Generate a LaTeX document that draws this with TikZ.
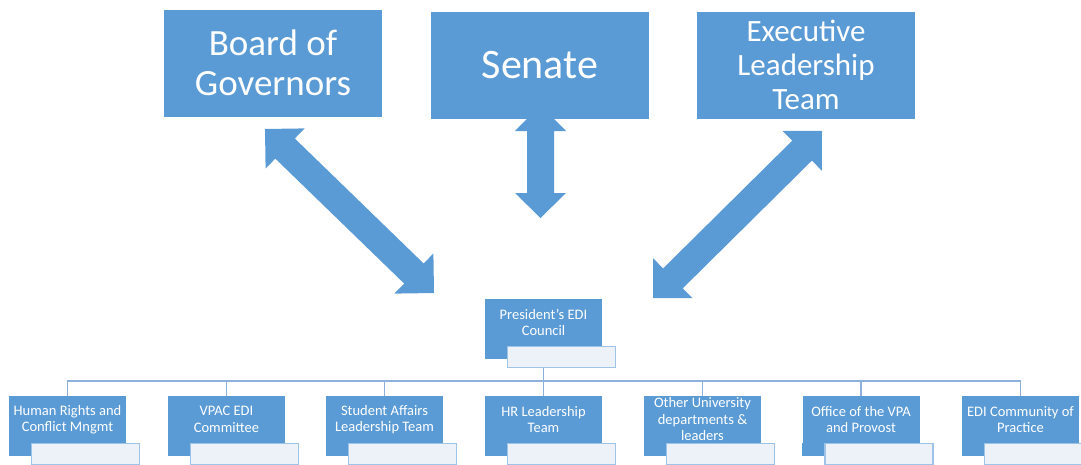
\documentclass[tikz,border=0pt]{standalone}
\usepackage{fontspec}
\setmainfont{Carlito}
\definecolor{edi}{RGB}{91,155,213}
\definecolor{ediline}{RGB}{141,176,221}
\definecolor{edipale}{RGB}{237,242,249}
\definecolor{ediedge}{RGB}{157,195,230}
\begin{document}
\begin{tikzpicture}[x=1pt,y=-1pt,
 top/.style={fill=edi,text=white,minimum width=218pt,minimum height=107pt,inner sep=0pt,align=center},
 unit/.style={fill=edi,text=white,minimum width=117pt,minimum height=47pt,inner sep=0pt,align=center,font=\fontsize{14.5}{16.5}\selectfont},
 tag/.style={fill=edipale,draw=ediedge,line width=1.2pt,minimum width=108pt,minimum height=21pt,inner sep=0pt,anchor=north west},
 link/.style={draw=ediline,line width=1.3pt}]
 \useasboundingbox (0,0) rectangle (1081,464);
 % top row
 \node[top,font=\fontsize{37}{40}\selectfont] (board) at (273,63) {Board of\\Governors};
 \node[top,font=\fontsize{42}{44}\selectfont] (senate) at (540,65) {Senate};
 \node[top,font=\fontsize{31}{34}\selectfont] (elt) at (806,65) {Executive\\Leadership\\Team};
 % block arrows
 \fill[edi](265,129)--(304.6,128.4)--(294.8,138.5)--(423.7,263.5)--(433.4,253.4)--(434,293)--(394.4,293.6)--(404.2,283.6)--(275.3,158.6)--(265.6,168.6)--cycle;
 \fill[edi](540.5,105)--(566,131)--(554,131)--(554,193)--(566,193)--(540.5,218)--(515,193)--(527,193)--(527,131)--(515,131)--cycle;
 \fill[edi](822,131)--(782.4,130.8)--(792.2,140.7)--(663.1,268.4)--(653.2,258.4)--(653,298)--(692.6,298.2)--(682.8,288.3)--(811.9,160.6)--(821.8,170.6)--cycle;
 % council and units
 \node[unit] (pres) at (543.5,322.5) {President's EDI\\Council};
 \node[unit] (hrights) at (67.5,419.5) {Human Rights and\\Conflict Mngmt};
 \node[unit] (vpac) at (226.5,419.5) {VPAC EDI\\Committee};
 \node[unit] (stuaff) at (384.5,419.5) {Student Affairs\\Leadership Team};
 \node[unit] (hrlead) at (543.5,419.5) {HR Leadership\\Team};
 \node[unit] (otherdept) at (702.5,419.5) {Other University\\departments \&\\leaders};
 \node[unit] (vpa) at (861,419.5) {Office of the VPA\\and Provost};
 \node[unit] (edicop) at (1020.5,419.5) {EDI Community of\\Practice};
 \coordinate (bus) at (543.5,381);
 \draw[link] (pres.south) |- (bus) -| (hrights.north);
 \draw[link] (pres.south) |- (bus) -| (vpac.north);
 \draw[link] (pres.south) |- (bus) -| (stuaff.north);
 \draw[link] (pres.south) |- (bus) -| (hrlead.north);
 \draw[link] (pres.south) |- (bus) -| (otherdept.north);
 \draw[link] (pres.south) |- (bus) -| (vpa.north);
 \draw[link] (pres.south) |- (bus) -| (edicop.north);
 % lower strips and white tags
 \fill[edi] (pres.south west) rectangle ++(22,13);
 \fill[edi] (hrights.south west) rectangle ++(22,13);
 \fill[edi] (vpac.south west) rectangle ++(22,13);
 \fill[edi] (stuaff.south west) rectangle ++(22,13);
 \fill[edi] (hrlead.south west) rectangle ++(22,13);
 \fill[edi] (otherdept.south west) rectangle ++(22,13);
 \fill[edi] (vpa.south west) rectangle ++(22,13);
 \fill[edi] (edicop.south west) rectangle ++(22,13);
 \node[tag] (pres-t) at ([xshift=22pt]pres.south west) {};
 \node[tag] (hrights-t) at ([xshift=22pt]hrights.south west) {};
 \node[tag] (vpac-t) at ([xshift=22pt]vpac.south west) {};
 \node[tag] (stuaff-t) at ([xshift=22pt]stuaff.south west) {};
 \node[tag] (hrlead-t) at ([xshift=22pt]hrlead.south west) {};
 \node[tag] (otherdept-t) at ([xshift=22pt]otherdept.south west) {};
 \node[tag] (vpa-t) at ([xshift=22pt]vpa.south west) {};
 \node[tag] (edicop-t) at ([xshift=22pt]edicop.south west) {};
\end{tikzpicture}
\end{document}
